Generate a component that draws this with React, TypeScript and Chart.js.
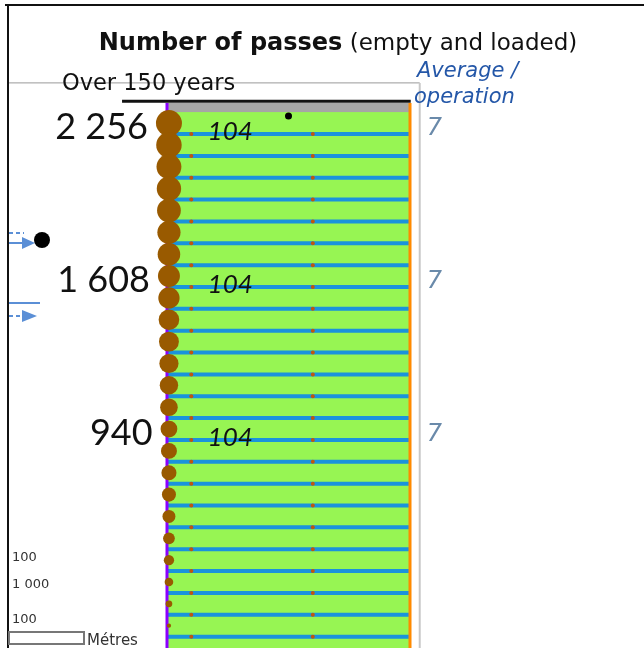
import React, { useEffect, useRef } from 'react';
import { Chart, registerables } from 'chart.js';

Chart.register(...registerables);

// ---- data ----
const depthRows = [0, 1, 2, 3, 4, 5, 6, 7, 8, 9, 10, 11, 12, 13, 14, 15, 16, 17, 18, 19, 20, 21, 22, 23];
const passes = [2256, 2165, 2070, 1980, 1885, 1795, 1700, 1608, 1512, 1418, 1322, 1228, 1132, 1036, 940, 850, 760, 660, 560, 460, 355, 250, 150, 60];
const labelledRows = [0, 7, 14];
const periodPasses = [104, 104, 104];
const averagePerOperation = [7, 7, 7];
const gaugeMarks = [10, 60];
const markerPoints = [{ x: 50, y: -0.33 }];
const scaleLegendLabels = ['100', '1 000', '100'];
const titleBold = 'Number of passes';
const titleRest = ' (empty and loaded)';
const periodLabel = 'Over 150 years';
const averageLabel = ['Average /', 'operation'];
const unitLabel = 'Métres';

// ---- layout / style constants ----
const W = 644;
const H = 648;
const X_MIN = 0;
const X_MAX = 100;
const Y_MIN = -0.92;
const Y_MAX = 24.02;
const BUBBLE_X = 0.8;
const MAX_R = 13;
const AVG_X = 110;
const PERIOD_X = 26;
const GREEN = '#97f553';
const BLUE = '#1a93dc';
const BROWN = '#995a00';

const fmt = (v: number) => String(v).replace(/\B(?=(\d{3})+(?!\d))/g, ' ');
const radius = (v: number) => MAX_R * Math.sqrt(v / passes[0]);

const decorPlugin = {
  id: 'decor',
  beforeDatasetsDraw(chart: any) {
    const { ctx, chartArea: a, scales } = chart;
    const y = scales.y;
    ctx.save();
    ctx.fillStyle = GREEN;
    ctx.fillRect(a.left, a.top, a.right - a.left, a.bottom - a.top);
    ctx.fillStyle = '#a6a6a6';
    const yb = y.getPixelForValue(-0.5);
    ctx.fillRect(a.left, a.top, a.right - a.left, yb - a.top);
    ctx.restore();
  },
  afterDraw(chart: any) {
    const { ctx, scales } = chart;
    const x = scales.x;
    const y = scales.y;
    ctx.save();

    // frame
    ctx.fillStyle = '#111';
    ctx.fillRect(5, 4, 639, 2);
    ctx.fillRect(7, 4, 2, 644);

    // title
    ctx.textBaseline = 'alphabetic';
    ctx.fillStyle = '#111';
    ctx.font = 'bold 24px "DejaVu Sans"';
    const wb = ctx.measureText(titleBold).width;
    ctx.font = '23px "DejaVu Sans"';
    const wn = ctx.measureText(titleRest).width;
    const tx = 338 - (wb + wn) / 2;
    ctx.font = 'bold 24px "DejaVu Sans"';
    ctx.textAlign = 'left';
    ctx.fillText(titleBold, tx, 50);
    ctx.font = '23px "DejaVu Sans"';
    ctx.fillText(titleRest, tx + wb, 50);

    // period label
    ctx.font = '22.5px "DejaVu Sans"';
    ctx.fillStyle = '#111';
    ctx.fillText(periodLabel, 62, 90);

    // average label
    ctx.font = 'italic 21px "DejaVu Sans"';
    ctx.fillStyle = '#2457a8';
    ctx.fillText(averageLabel[0], 417, 77);
    ctx.fillText(averageLabel[1], 414, 103);

    // row labels
    labelledRows.forEach((row, k) => {
      const cy = y.getPixelForValue(depthRows[row]);
      const cx = x.getPixelForValue(BUBBLE_X);
      const r = radius(passes[row]);
      ctx.font = '36px Lato';
      ctx.fillStyle = '#111';
      ctx.textAlign = 'right';
      ctx.fillText(fmt(passes[row]), cx - r - 8, cy + 16);

      ctx.font = 'italic 26px Lato';
      ctx.textAlign = 'center';
      ctx.fillText(String(periodPasses[k]), x.getPixelForValue(PERIOD_X), cy + 17);

      ctx.font = 'italic 24px "DejaVu Sans"';
      ctx.fillStyle = '#6a8aaa';
      ctx.fillText(String(averagePerOperation[k]), x.getPixelForValue(AVG_X), cy + 12);
    });

    // left legend arrows
    ctx.strokeStyle = '#5b8fd6';
    ctx.fillStyle = '#5b8fd6';
    ctx.lineWidth = 2;
    ctx.setLineDash([4, 3]);
    ctx.beginPath(); ctx.moveTo(9, 233); ctx.lineTo(24, 233); ctx.stroke();
    ctx.beginPath(); ctx.moveTo(9, 316); ctx.lineTo(24, 316); ctx.stroke();
    ctx.setLineDash([]);
    ctx.beginPath(); ctx.moveTo(9, 243); ctx.lineTo(26, 243); ctx.stroke();
    ctx.beginPath(); ctx.moveTo(9, 303); ctx.lineTo(40, 303); ctx.stroke();
    ctx.beginPath(); ctx.moveTo(22, 237); ctx.lineTo(35, 243); ctx.lineTo(22, 249); ctx.closePath(); ctx.fill();
    ctx.beginPath(); ctx.moveTo(22, 310); ctx.lineTo(37, 316); ctx.lineTo(22, 322); ctx.closePath(); ctx.fill();
    ctx.fillStyle = '#000';
    ctx.beginPath(); ctx.arc(42, 240, 8, 0, Math.PI * 2); ctx.fill();

    // bottom-left scale legend
    ctx.font = '13px "DejaVu Sans"';
    ctx.fillStyle = '#333';
    ctx.textAlign = 'left';
    ctx.fillText(scaleLegendLabels[0], 12, 561);
    ctx.fillText(scaleLegendLabels[1], 12, 588);
    ctx.fillText(scaleLegendLabels[2], 12, 623);
    ctx.fillStyle = '#fff';
    ctx.fillRect(9, 632, 75, 12);
    ctx.strokeStyle = '#777';
    ctx.lineWidth = 2;
    ctx.strokeRect(9, 632, 75, 12);
    ctx.font = '15px "DejaVu Sans"';
    ctx.fillStyle = '#333';
    ctx.fillText(unitLabel, 87, 645);

    ctx.restore();
  },
};

export default function App() {
  const ref = useRef<HTMLCanvasElement>(null);
  useEffect(() => {
    document.body.style.margin = '0';
    const bubbleData = passes.map((v, i) => ({ x: BUBBLE_X, y: depthRows[i], r: radius(v) }));
    const barData = depthRows.map((r) => ({ y: r, x: [X_MIN, X_MAX] }));
    const markData: { x: number; y: number }[] = [];
    depthRows.forEach((r) => gaugeMarks.forEach((g) => markData.push({ x: g, y: r + 0.5 })));
    const boundaryData: any[] = [];
    depthRows.forEach((r) => {
      boundaryData.push({ x: X_MIN, y: r + 0.5 }, { x: X_MAX, y: r + 0.5 }, { x: null, y: null });
    });

    const chart = new Chart(ref.current as HTMLCanvasElement, {
      type: 'bar',
      data: {
        datasets: [
          {
            type: 'bubble',
            data: bubbleData,
            backgroundColor: BROWN,
            borderColor: BROWN,
            borderWidth: 0,
            order: 0,
            clip: false,
          } as any,
          {
            type: 'scatter',
            data: markData,
            backgroundColor: '#c0560e',
            borderWidth: 0,
            pointRadius: 2,
            order: 1,
          } as any,
          {
            type: 'scatter',
            data: markerPoints,
            backgroundColor: '#000',
            borderWidth: 0,
            pointRadius: 3.5,
            order: 1,
          } as any,
          {
            type: 'line',
            data: [{ x: X_MIN, y: Y_MIN }, { x: X_MIN, y: Y_MAX }],
            borderColor: '#8b00ff',
            borderWidth: 3,
            pointRadius: 0,
            order: 2,
            clip: false,
          } as any,
          {
            type: 'line',
            data: [{ x: X_MAX, y: Y_MIN }, { x: X_MAX, y: Y_MAX }],
            borderColor: '#ff8a00',
            borderWidth: 3,
            pointRadius: 0,
            order: 2,
            clip: false,
          } as any,
          {
            type: 'line',
            data: [{ x: 104, y: -1.84 }, { x: 104, y: Y_MAX }],
            borderColor: '#c8c8c8',
            borderWidth: 2,
            pointRadius: 0,
            order: 3,
            clip: false,
          } as any,
          {
            type: 'line',
            data: [{ x: -65.5, y: -1.84 }, { x: 104, y: -1.84 }],
            borderColor: '#9a9a9a',
            borderWidth: 1,
            pointRadius: 0,
            order: 3,
            clip: false,
          } as any,
          {
            type: 'line',
            data: [{ x: -18.5, y: -1.0 }, { x: 100.3, y: -1.0 }, { x: 100.3, y: -1.84 }],
            borderColor: '#111',
            borderWidth: 3,
            pointRadius: 0,
            order: 2,
            clip: false,
          } as any,
          {
            type: 'line',
            data: boundaryData,
            borderColor: BLUE,
            borderWidth: 4,
            pointRadius: 0,
            spanGaps: false,
            order: 4,
          } as any,
          {
            type: 'bar',
            indexAxis: 'y',
            data: barData,
            backgroundColor: GREEN,
            borderWidth: 0,
            categoryPercentage: 1,
            barPercentage: 1,
            inflateAmount: 0.5,
            order: 5,
          } as any,
        ],
      },
      options: {
        animation: false,
        responsive: false,
        devicePixelRatio: 1,
        layout: { autoPadding: false, padding: { left: 167, right: 234, top: 103, bottom: 0 } },
        plugins: { legend: { display: false }, tooltip: { enabled: false }, title: { display: false } },
        scales: {
          x: { type: 'linear', min: X_MIN, max: X_MAX, offset: false, display: false, grid: { offset: false } },
          y: { type: 'linear', min: Y_MIN, max: Y_MAX, reverse: true, offset: false, display: false, grid: { offset: false } },
        },
      } as any,
      plugins: [decorPlugin],
    });
    return () => chart.destroy();
  }, []);
  return (
    <div style={{ position: 'fixed', left: 0, top: 0, width: W, height: H, background: '#fff' }}>
      <canvas ref={ref} width={W} height={H} style={{ display: 'block', width: W, height: H }} />
    </div>
  );
}
